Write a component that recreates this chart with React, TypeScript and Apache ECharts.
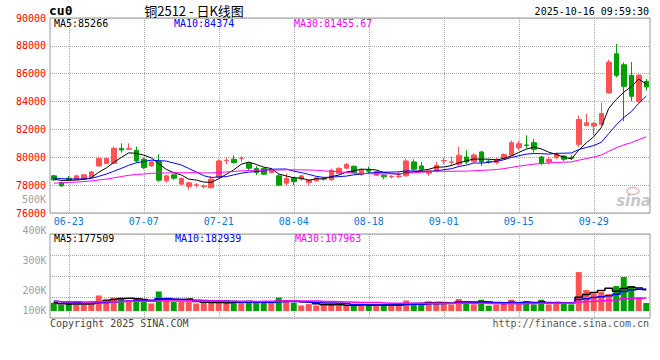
import React, { useEffect, useRef } from 'react';
import * as echarts from 'echarts';

// ---- data ----
const dates = [
  '06-19', '06-20', '06-23', '06-24', '06-25', '06-26', '06-27', '06-30',
  '07-01', '07-02', '07-03', '07-04', '07-07', '07-08', '07-09', '07-10', '07-11', '07-14', '07-15', '07-16',
  '07-17', '07-18', '07-21', '07-22', '07-23', '07-24', '07-25', '07-28', '07-29', '07-30', '07-31',
  '08-01', '08-04', '08-05', '08-06', '08-07', '08-08', '08-11', '08-12', '08-13', '08-14', '08-15',
  '08-18', '08-19', '08-20', '08-21', '08-22', '08-25', '08-26', '08-27', '08-28', '08-29',
  '09-01', '09-02', '09-03', '09-04', '09-05', '09-08', '09-09', '09-10', '09-11', '09-12',
  '09-15', '09-16', '09-17', '09-18', '09-19', '09-22', '09-23', '09-24', '09-25', '09-26', '09-29', '09-30',
  '10-09', '10-10', '10-13', '10-14', '10-15', '10-16',
];

const opens = [
  78667, 78190, 78500, 78429, 78429, 78595, 79381, 79548, 79571, 80643,
  80571, 80500, 79857, 79381, 79690, 78310, 78738, 78071, 77905, 78000,
  77905, 77810, 78548, 79762, 79857, 79905, 79571, 79190, 79190, 78905,
  78667, 78143, 78500, 78429, 78190, 78310, 78429, 78381, 78850, 79220,
  79357, 78762, 79070, 78714, 78714, 78595, 78619, 78667, 79667, 79381,
  78850, 79024, 79738, 79643, 79500, 80024, 79690, 80381, 79714, 79619,
  79905, 80143, 80690, 80881, 81048, 80024, 79667, 79976, 80095, 80000,
  80929, 82286, 82238, 82357, 84619, 87429, 86643, 85881, 84024, 85452,
];
const closes = [
  78381, 77952, 78357, 78667, 78738, 78952, 79905, 79905, 80643, 80524,
  80619, 79738, 79262, 79667, 78357, 78667, 78500, 78476, 78167, 78024,
  77929, 78429, 79738, 79786, 79619, 79929, 79214, 78905, 78786, 79119,
  78000, 78476, 78262, 78667, 78357, 78524, 78452, 79071, 79200, 79480,
  78905, 79071, 79000, 78976, 78595, 78619, 78643, 79738, 79143, 79143,
  79024, 79428, 79762, 79667, 80143, 79667, 80167, 79667, 79690, 79857,
  80190, 81048, 80976, 80857, 80571, 79571, 79857, 80190, 79857, 79929,
  82714, 82476, 82429, 83143, 86833, 85881, 85095, 84381, 85881, 85048,
];
const highs = [
  78738, 78262, 78667, 78738, 78786, 79024, 80048, 79976, 80762, 81000,
  81000, 80762, 79976, 79738, 80214, 78738, 78786, 78548, 78238, 78143,
  78048, 78667, 79857, 79976, 80143, 80095, 79619, 79381, 79262, 79238,
  78786, 78833, 78548, 78714, 78429, 78548, 78595, 79190, 79286, 79600,
  79405, 79190, 79333, 79071, 78786, 78714, 78952, 79905, 79857, 79667,
  79095, 79667, 79976, 80048, 80762, 80500, 80286, 80452, 79857, 79976,
  80286, 81214, 81167, 81571, 81333, 80095, 80048, 80333, 80143, 80143,
  83000, 83143, 82524, 83905, 87000, 88143, 86810, 86833, 85976, 85619,
];
const lows = [
  78286, 77857, 78286, 78381, 78357, 78548, 79333, 79500, 79500, 80333,
  80571, 79619, 79143, 79310, 78238, 78190, 78381, 78000, 77667, 77833,
  77762, 77762, 78500, 79500, 79548, 79667, 79071, 78738, 78738, 78857,
  77929, 77952, 78000, 78310, 78000, 78262, 78310, 78310, 78780, 79143,
  78857, 78667, 78857, 78667, 78429, 78476, 78500, 78619, 79024, 79071,
  78667, 78905, 79500, 79381, 79381, 79500, 79619, 79381, 79548, 79500,
  79857, 80095, 80524, 80643, 80333, 79429, 79500, 79857, 79738, 79810,
  80762, 82238, 81571, 82310, 84571, 85738, 82595, 84024, 83905, 84810,
];
const volumes = [
  69200, 52500, 69200, 52500, 52500, 80100, 130300, 102700, 113500, 102700,
  88500, 102700, 75100, 63400, 163700, 102700, 75100, 80100, 80100, 63400,
  69200, 69200, 75100, 69200, 88500, 69200, 88500, 69200, 69200, 69200,
  113500, 88500, 69200, 46700, 58400, 46700, 46700, 60900, 46700, 46700,
  46700, 60900, 52500, 41700, 52500, 46700, 58400, 88500, 69200, 58400,
  78000, 67000, 78000, 56000, 101000, 78000, 56000, 95000, 45000, 56000,
  67000, 95000, 56000, 84000, 56000, 95000, 56000, 67000, 67000, 56000,
  326000, 175600, 146300, 158800, 142100, 209000, 284200, 209000, 117000, 66900,
];
// sessions before 06-19 (estimated from where the MA lines start)
const priorCloses = [
  77600, 77450, 77800, 77700, 77550, 77900, 78050, 77850, 77750, 77950,
  78000, 78250, 78100, 77950, 78300, 78200, 78350, 78050, 78250, 78250,
  78450, 78700, 78550, 78800, 78550, 78400, 78300, 78600, 78470,
];
const priorVolumes = [
  72000, 85000, 80000, 76000, 70000, 92000, 81000, 74000, 69000, 78000,
  83000, 75000, 71000, 88000, 79000, 73000, 80000, 77000, 76000, 81000,
  95000, 88000, 102000, 90000, 89800, 90000, 86000, 51000, 49000,
];

const labelDates = ['06-23', '07-07', '07-21', '08-04', '08-18', '09-01', '09-15', '09-29'];
const priceMin = 76000;
const priceMax = 90000;
const priceStep = 2000;
const volumeTickLabels = ['400K', '300K', '200K', '100K'];
const extraPriceLabel = '500K';
const priceMAText = ['MA5:85266', 'MA10:84374', 'MA30:81455.67'];
const volumeMAText = ['MA5:177509', 'MA10:182939', 'MA30:107963'];
const titleText = '铜2512 - 日K线图';
const symbolText = 'cu0';
const timeText = '2025-10-16 09:59:30';
const copyrightText = 'Copyright 2025 SINA.COM';
const urlText = 'http://finance.sina.com.cn';

// ---- styling ----
const RED = '#ff5353';
const GREEN = '#00a000';
const MA_COLORS = ['#000000', '#0000ff', '#ff00ff'];
const MONO = '"DejaVu Sans Mono", monospace';
const GRID_LINE = { color: '#aaaaaa', type: [1, 1] as any, width: 1 };

function movingAverage(prior: number[], values: number[], n: number) {
  const all = prior.concat(values);
  const off = prior.length;
  return values.map((_, i) => {
    let s = 0;
    for (let k = 0; k < n; k++) s += all[off + i - k];
    return +(s / n).toFixed(2);
  });
}

function txt(text: string, x: number, y: number, fill: string, font: string, align = 'left') {
  return {
    type: 'text',
    x,
    y,
    silent: true,
    z: 100,
    style: {
      text,
      fill,
      font,
      align,
      textAlign: align,
      verticalAlign: 'middle',
      textVerticalAlign: 'middle',
    },
  };
}

function buildOption() {
  const candles = opens.map((o, i) => [o, closes[i], lows[i], highs[i]]);
  const volData = volumes.map((v, i) => ({
    value: v,
    itemStyle: { color: closes[i] >= opens[i] ? RED : GREEN },
  }));
  const labelIdx = labelDates.map((d) => dates.indexOf(d));
  // half-slot positions: point 2i+1 sits on the centre of day i (boundaryGap false)
  const halfSlots = Array.from({ length: dates.length * 2 + 1 }, (_, k) => String(k));
  const gridAxis = (gridIndex: number) => ({
    type: 'category',
    gridIndex,
    data: halfSlots,
    boundaryGap: false,
    axisLine: { show: false },
    axisTick: { show: false },
    axisLabel: { show: false },
    splitLine: {
      show: true,
      interval: (k: number) => k % 2 === 1 && labelIdx.includes((k - 1) / 2),
      lineStyle: GRID_LINE,
    },
  });
  const maPeriods = [5, 10, 30];

  return {
    animation: false,
    backgroundColor: '#ffffff',
    grid: [
      { left: 50, top: 18, width: 600, height: 195, show: true, borderColor: '#999', borderWidth: 1, backgroundColor: 'transparent' },
      { left: 50, top: 234, width: 600, height: 84, show: true, borderColor: '#999', borderWidth: 1, backgroundColor: 'transparent' },
    ],
    xAxis: [
      {
        type: 'category',
        gridIndex: 0,
        data: dates,
        axisLine: { show: false },
        axisTick: { show: false },
        splitLine: { show: false },
        axisLabel: {
          interval: (_i: number, v: string) => labelDates.includes(v),
          color: '#0a78d6',
          fontFamily: MONO,
          fontSize: 10,
          margin: 3,
        },
      },
      {
        type: 'category',
        gridIndex: 1,
        data: dates,
        axisLine: { show: false },
        axisTick: { show: false },
        splitLine: { show: false },
        axisLabel: { show: false },
      },
      gridAxis(0),
      gridAxis(1),
    ],
    yAxis: [
      {
        type: 'value',
        gridIndex: 0,
        min: priceMin,
        max: priceMax,
        interval: priceStep,
        axisLine: { show: false },
        axisTick: { show: false },
        splitLine: { show: true, lineStyle: GRID_LINE },
        axisLabel: {
          color: '#ff0000',
          fontFamily: MONO,
          fontSize: 10,
          margin: 4,
          padding: [0, 0, 4, 0],
          formatter: (v: number) => String(v),
        },
      },
      {
        type: 'value',
        gridIndex: 1,
        min: -58000,
        max: 644000,
        axisLine: { show: false },
        axisTick: { show: false },
        splitLine: { show: false },
        axisLabel: { show: false },
      },
      {
        type: 'value',
        gridIndex: 1,
        min: 0,
        max: 4,
        interval: 1,
        axisLine: { show: false },
        axisTick: { show: false },
        splitLine: { show: true, lineStyle: GRID_LINE },
        axisLabel: { show: false },
      },
    ],
    series: [
      {
        type: 'candlestick',
        xAxisIndex: 0,
        yAxisIndex: 0,
        data: candles,
        barWidth: 5,
        z: 2,
        itemStyle: { color: RED, color0: GREEN, borderColor: RED, borderColor0: GREEN, borderWidth: 1 },
      },
      ...maPeriods.map((n, k) => ({
        type: 'line',
        xAxisIndex: 0,
        yAxisIndex: 0,
        data: movingAverage(priorCloses, closes, n),
        showSymbol: false,
        symbol: 'none',
        z: 3,
        lineStyle: { color: MA_COLORS[k], width: 1 },
      })),
      {
        type: 'bar',
        xAxisIndex: 1,
        yAxisIndex: 1,
        data: volData,
        barWidth: 6,
        z: 2,
      },
      ...maPeriods.map((n, k) => ({
        type: 'line',
        xAxisIndex: 1,
        yAxisIndex: 1,
        data: movingAverage(priorVolumes, volumes, n),
        showSymbol: false,
        symbol: 'none',
        step: 'middle',
        z: 3,
        lineStyle: { color: MA_COLORS[k], width: 1.5 },
      })),
    ],
    graphic: [
      txt(symbolText, 49, 10, '#000', `bold 13px ${MONO}`),
      txt(titleText, 194, 10, '#000', '13px "Noto Sans CJK SC", sans-serif', 'center'),
      txt(timeText, 649, 11, '#000', `10px ${MONO}`, 'right'),
      txt(priceMAText[0], 54, 23.5, MA_COLORS[0], `10px ${MONO}`),
      txt(priceMAText[1], 174, 23.5, MA_COLORS[1], `10px ${MONO}`),
      txt(priceMAText[2], 294, 23.5, MA_COLORS[2], `10px ${MONO}`),
      txt(extraPriceLabel, 46, 199, '#a0a0a0', `10px ${MONO}`, 'right'),
      txt(volumeMAText[0], 54, 238.5, MA_COLORS[0], `10px ${MONO}`),
      txt(volumeMAText[1], 175, 238.5, MA_COLORS[1], `10px ${MONO}`),
      txt(volumeMAText[2], 295, 238.5, MA_COLORS[2], `10px ${MONO}`),
      txt(volumeTickLabels[0], 46.5, 230.5, '#a0a0a0', `10px ${MONO}`, 'right'),
      txt(volumeTickLabels[1], 46.5, 260.5, '#a0a0a0', `10px ${MONO}`, 'right'),
      txt(volumeTickLabels[2], 46.5, 290.5, '#a0a0a0', `10px ${MONO}`, 'right'),
      txt(volumeTickLabels[3], 46.5, 310, '#a0a0a0', `10px ${MONO}`, 'right'),
      txt(copyrightText, 50, 323.5, '#444', `10px ${MONO}`),
      txt(urlText, 649, 323.5, '#555', `10px ${MONO}`, 'right'),
      {
        type: 'ellipse',
        silent: true,
        z: 50,
        shape: { cx: 633, cy: 191, rx: 6, ry: 3.5 },
        style: { fill: 'none', stroke: '#efb0b0', lineWidth: 1.5 },
      },
      txt('sina', 651, 201, 'rgba(150,150,150,0.55)', 'italic bold 15px "DejaVu Sans", sans-serif', 'right'),
    ],
  };
}

export default function App() {
  const ref = useRef<HTMLDivElement>(null);
  useEffect(() => {
    if (!ref.current) return;
    const chart = echarts.init(ref.current, null, { renderer: 'svg' });
    chart.setOption(buildOption() as any);
    return () => chart.dispose();
  }, []);
  return (
    <div
      ref={ref}
      style={{ position: 'fixed', left: 0, top: 0, width: 660, height: 360, background: '#fff' }}
    />
  );
}
